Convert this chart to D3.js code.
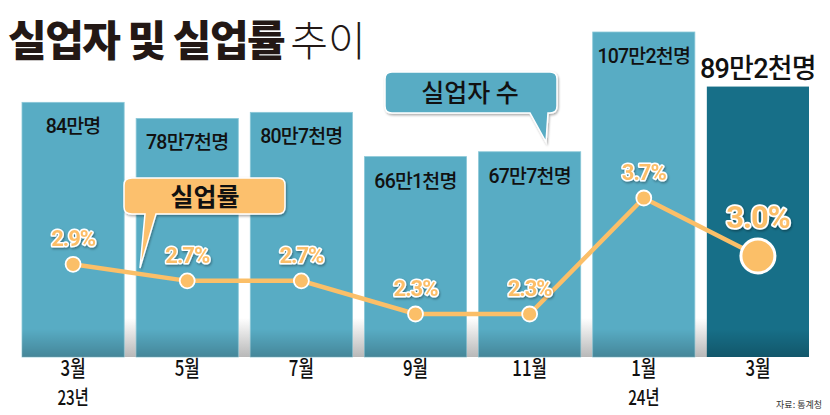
<!DOCTYPE html>
<html><head><meta charset="utf-8">
<script src="https://cdn.jsdelivr.net/npm/d3@7"></script>
<style>body{margin:0;background:#fff}svg{display:block}</style>
</head><body>
<svg id="c" width="830" height="415"></svg>
<script>
const months = ["3월","5월","7월","9월","11월","1월","3월"];
const years = ["23년","","","","","24년",""];
const unemployed = [84, 78.7, 80.7, 66.1, 67.7, 107.2, 89.2];
const unemployedLabels = ["84만명","78만7천명","80만7천명","66만1천명","67만7천명","107만2천명","89만2천명"];
const rate = [2.9, 2.7, 2.7, 2.3, 2.3, 3.7, 3.0];
const rateLabels = ["2.9%","2.7%","2.7%","2.3%","2.3%","3.7%","3.0%"];

const svg = d3.select("#c");
const KR = "'Noto Sans CJK KR', sans-serif";
const NUM = "Roboto, 'Noto Sans CJK KR', sans-serif";
const base = 357;

const x = d3.scaleBand().domain(d3.range(months.length)).range([22, 809]).paddingInner(0.105);
const y = d3.scaleLinear().domain([0, 107.2]).range([base, 32]);
const yr = d3.scaleLinear().domain([2.3, 3.7]).range([314, 198]);

const defs = svg.append("defs");
const g1 = defs.append("linearGradient").attr("id","shade").attr("x1",0).attr("y1",0).attr("x2",0).attr("y2",1);
g1.append("stop").attr("offset",0).attr("stop-color","#000").attr("stop-opacity",0);
g1.append("stop").attr("offset",1).attr("stop-color","#000").attr("stop-opacity",0.22);
const g2 = defs.append("linearGradient").attr("id","gap").attr("x1",0).attr("y1",0).attr("x2",0).attr("y2",1);
g2.append("stop").attr("offset",0).attr("stop-color","#fff");
g2.append("stop").attr("offset",1).attr("stop-color","#b8b8b8");
const f = defs.append("filter").attr("id","ds").attr("x","-20%").attr("y","-20%").attr("width","140%").attr("height","150%");
f.append("feDropShadow").attr("dx",1).attr("dy",1.5).attr("stdDeviation",1).attr("flood-color","#000").attr("flood-opacity",0.35);

// gap shading
svg.append("rect").attr("x",22).attr("y",318).attr("width",787).attr("height",base-318).attr("fill","url(#gap)");

// title
const t = svg.append("text").attr("x",8).attr("y",56).attr("font-family",KR).attr("fill","#231815");
t.append("tspan").attr("font-size",42).attr("font-weight",900).attr("letter-spacing",-1.5).text("실업자 및 실업률");
t.append("tspan").attr("font-size",41).attr("font-weight",300).attr("dx",6).text("추이");

// bars
const bars = svg.append("g");
bars.selectAll("rect.bar").data(unemployed).join("rect").attr("class","bar")
  .attr("x",(d,i)=>x(i)).attr("width",x.bandwidth())
  .attr("y",d=>y(d)).attr("height",d=>base-y(d))
  .attr("fill",(d,i)=>i===6?"#176f88":"#58acc4")
  .attr("stroke",(d,i)=>i===6?"none":"#8cc8d8").attr("stroke-width",0.8);
bars.selectAll("rect.sh").data(unemployed).join("rect").attr("class","sh")
  .attr("x",(d,i)=>x(i)).attr("width",x.bandwidth())
  .attr("y",base-28).attr("height",28).attr("fill","url(#shade)");

// bar labels
svg.selectAll("text.bl").data(unemployedLabels).join("text").attr("class","bl")
  .attr("x",(d,i)=>x(i)+x.bandwidth()/2)
  .attr("y",(d,i)=>i===6?y(unemployed[i])-9:y(unemployed[i])+31)
  .attr("text-anchor","middle").attr("font-family",NUM)
  .attr("font-size",(d,i)=>i===6?27:19.5).attr("font-weight",500)
  .attr("letter-spacing",-0.8).attr("fill","#111").text(d=>d);

// callout 실업자 수
svg.append("path").attr("d","M392,72 H550 Q557,72 557,79 V106 Q557,113 550,113 H548 L546,142 L530,113 H392 Q385,113 385,106 V79 Q385,72 392,72 Z")
  .attr("fill","#58acc4").attr("stroke","#fff").attr("stroke-width",1.5).attr("filter","url(#ds)");
svg.append("text").attr("x",470).attr("y",102).attr("text-anchor","middle").attr("font-family",KR)
  .attr("font-size",25).attr("font-weight",500).attr("fill","#111").text("실업자 수");

// line
const line = d3.line().x((d,i)=>x(i)+x.bandwidth()/2).y(d=>yr(d));
svg.append("path").datum(rate).attr("d",line).attr("fill","none").attr("stroke","#fbbf68").attr("stroke-width",4.5);

// callout 실업률
svg.append("path").attr("d","M132,178 H278 Q285,178 285,185 V207 Q285,214 278,214 H156 L140,268 L145,214 H132 Q124,214 124,207 V185 Q124,178 132,178 Z")
  .attr("fill","#fcc06d").attr("stroke","#fff").attr("stroke-width",1.5).attr("filter","url(#ds)");
svg.append("text").attr("x",205).attr("y",206).attr("text-anchor","middle").attr("font-family",KR)
  .attr("font-size",25).attr("font-weight",700).attr("fill","#111").text("실업률");

// points
svg.selectAll("circle.pt").data(rate).join("circle").attr("class","pt")
  .attr("cx",(d,i)=>x(i)+x.bandwidth()/2).attr("cy",d=>yr(d))
  .attr("r",(d,i)=>i===6?17:7.5).attr("fill","#fbbf68")
  .attr("stroke","#fff").attr("stroke-width",(d,i)=>i===6?3:1.8);

// rate labels
svg.selectAll("text.rl").data(rateLabels).join("text").attr("class","rl")
  .attr("x",(d,i)=>x(i)+x.bandwidth()/2)
  .attr("y",(d,i)=>i===6?yr(rate[i])-28:yr(rate[i])-18)
  .attr("text-anchor","middle").attr("font-family",NUM)
  .attr("font-size",(d,i)=>i===6?31:22).attr("font-weight",700).attr("letter-spacing",-1)
  .attr("fill","#fcbe68").attr("stroke","#fff").attr("stroke-width",(d,i)=>i===6?3.5:3)
  .attr("paint-order","stroke").attr("stroke-linejoin","round").attr("filter","url(#ds)").text(d=>d);

// x labels
const xl = svg.append("g");
months.forEach((m,i)=>{
  const cx = x(i)+x.bandwidth()/2;
  xl.append("text").attr("transform",`translate(${cx},376) scale(0.8,1.05)`).attr("text-anchor","middle")
    .attr("font-family",KR).attr("font-size",21).attr("font-weight",500).attr("fill","#111").text(m);
  if (years[i]) xl.append("text").attr("transform",`translate(${cx},405) scale(0.8,1.05)`).attr("text-anchor","middle")
    .attr("font-family",KR).attr("font-size",19).attr("font-weight",500).attr("fill","#111").text(years[i]);
});

svg.append("text").attr("x",822).attr("y",408).attr("text-anchor","end").attr("font-family",KR)
  .attr("font-size",9).attr("fill","#333").text("자료: 통계청");
</script>
</body></html>
